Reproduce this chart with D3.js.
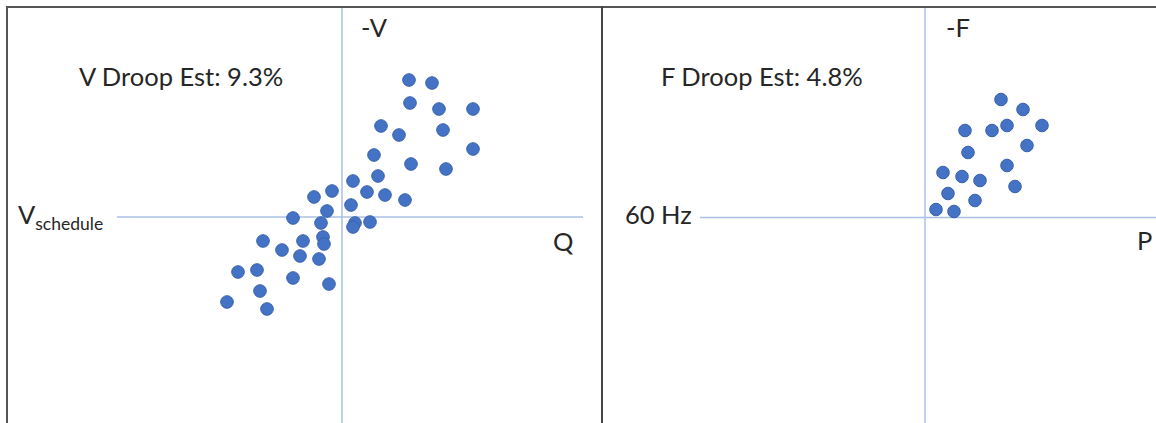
<!DOCTYPE html>
<html>
<head>
<meta charset="utf-8">
<script src="https://cdn.jsdelivr.net/npm/d3@7"></script>
<style>
  body { margin: 0; background: #fff; }
  text { font-family: Lato, "Open Sans", sans-serif; fill: #262626; }
</style>
</head>
<body>
<div id="chart"></div>
<script>
// reactive power vs voltage deviation (Q, -V)
let qValues = [0.67, 0.90, 0.68, 0.97, 1.31, 0.39, 0.57, 1.01, 1.31, 0.32,
               0.69, 1.04, 0.36, 0.11, -0.10, -0.28, 0.25, 0.43, 0.63, 0.09,
               -0.15, -0.49, -0.21, 0.13, 0.11, 0.28, -0.79, -0.39, -0.19, -0.18,
               -0.60, -0.42, -0.23, -1.04, -0.85, -0.49, -0.13, -0.82, -1.15, -0.75];
let vValues = [1.37, 1.34, 1.14, 1.08, 1.08, 0.91, 0.82, 0.87, 0.68, 0.62,
               0.53, 0.48, 0.41, 0.36, 0.26, 0.20, 0.25, 0.22, 0.17, 0.12,
               0.06, -0.01, -0.06, -0.06, -0.10, -0.05, -0.24, -0.24, -0.20, -0.27,
               -0.33, -0.39, -0.42, -0.55, -0.53, -0.61, -0.67, -0.74, -0.85, -0.92];

// active power vs frequency deviation (P, -F)
let pValues = [0.76, 0.98, 0.40, 0.67, 0.82, 1.17, 1.02, 0.43, 0.82, 0.18,
               0.37, 0.55, 0.23, 0.90, 0.50, 0.11, 0.29];
let fValues = [1.18, 1.08, 0.87, 0.87, 0.92, 0.92, 0.72, 0.65, 0.52, 0.45,
               0.41, 0.37, 0.24, 0.31, 0.17, 0.08, 0.06];

let vDroop = "9.3%";
let fDroop = "4.8%";

let width = 1156;
let height = 423;

let svg = d3.select('#chart').append('svg')
            .attr('width', width)
            .attr('height', height);

let panels = [
    {
        xs: qValues, ys: vValues,
        x0: 342, y0: 217, hx1: 117, hx2: 583,
        title: "V Droop Est: " + vDroop, titleX: 79,
        yLabel: "-V", yLabelX: 361,
        xLabel: "Q", xLabelX: 553, xLabelY: 251,
        ref: "V", refSub: "schedule", refX: 18
    },
    {
        xs: pValues, ys: fValues,
        x0: 925, y0: 217.5, hx1: 700, hx2: 1156,
        title: "F Droop Est: " + fDroop, titleX: 661,
        yLabel: "-F", yLabelX: 946,
        xLabel: "P", xLabelX: 1137, xLabelY: 250,
        ref: "60 Hz", refSub: null, refX: 625
    }
];

panels.forEach(function(p) {
    // 100 px per unit, origin on the crossing of the guide lines
    let x = d3.scaleLinear().domain([-1, 1]).range([p.x0 - 100, p.x0 + 100]);
    let y = d3.scaleLinear().domain([-1, 1]).range([p.y0 + 100, p.y0 - 100]);

    let g = svg.append('g');

    g.append('line')
        .attr('x1', x(0)).attr('x2', x(0))
        .attr('y1', 7).attr('y2', height)
        .attr('stroke', '#a9c0e6')
        .attr('stroke-width', 1.5);

    g.append('line')
        .attr('x1', p.hx1).attr('x2', p.hx2)
        .attr('y1', y(0)).attr('y2', y(0))
        .attr('stroke', '#a9c0e6')
        .attr('stroke-width', 1.5);

    g.selectAll('circle')
        .data(d3.zip(p.xs, p.ys))
        .join('circle')
        .attr('cx', d => x(d[0]))
        .attr('cy', d => y(d[1]))
        .attr('r', 6.3)
        .attr('fill', '#4472c4')
        .attr('stroke', '#3a62aa')
        .attr('stroke-width', 1);

    g.append('text')
        .attr('x', p.titleX).attr('y', 86)
        .attr('font-size', 25.5)
        .text(p.title);

    g.append('text')
        .attr('x', p.yLabelX).attr('y', 37)
        .attr('font-size', 25.5)
        .text(p.yLabel);

    g.append('text')
        .attr('x', p.xLabelX).attr('y', p.xLabelY)
        .attr('font-size', 25.5)
        .text(p.xLabel);

    let ref = g.append('text')
        .attr('x', p.refX).attr('y', 224)
        .attr('font-size', 25.5)
        .text(p.ref);
    if (p.refSub) {
        ref.append('tspan')
            .attr('dy', 6)
            .attr('font-size', 17.5)
            .text(p.refSub);
    }
});

// frame
svg.append('line')
    .attr('x1', 6).attr('x2', width)
    .attr('y1', 7).attr('y2', 7)
    .attr('stroke', '#555').attr('stroke-width', 2);
svg.append('line')
    .attr('x1', 7).attr('x2', 7)
    .attr('y1', 6).attr('y2', height)
    .attr('stroke', '#555').attr('stroke-width', 2);
svg.append('line')
    .attr('x1', 602).attr('x2', 602)
    .attr('y1', 6).attr('y2', height)
    .attr('stroke', '#444').attr('stroke-width', 2);
</script>
</body>
</html>
